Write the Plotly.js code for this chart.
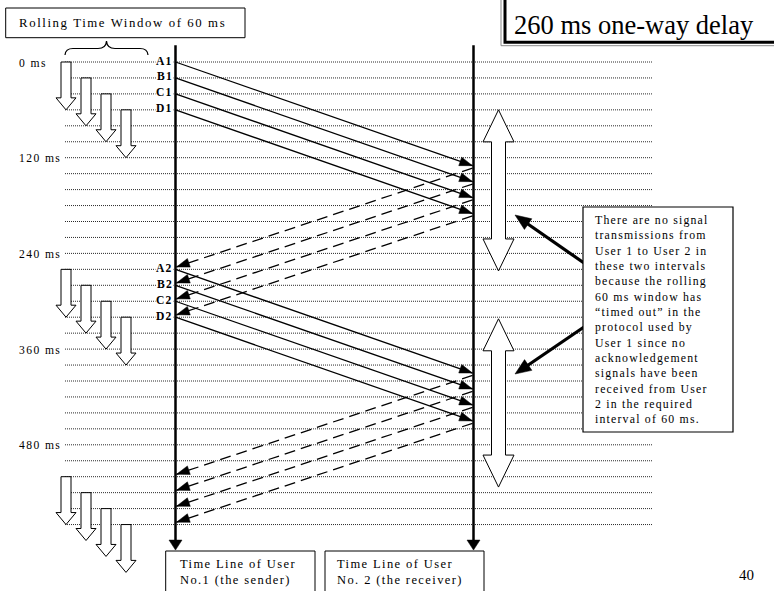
<!DOCTYPE html>
<html><head><meta charset="utf-8">
<script src="https://cdn.plot.ly/plotly-3.0.1.min.js"></script>
<style>html,body{margin:0;padding:0;background:#fff}#chart{width:774px;height:591px}</style>
</head><body><div id="chart"></div>
<script>
// ---------------- data ----------------
const gridTimes = [0,20,40,60,80,100,120,140,160,180,200,220,240,260,280,300,320,340,360,380,400,420,440,460,480,500,520,540,560,580];
const timeLabelValues = [0,120,240,360,480];
const timeLabels = ['0 ms','120 ms','240 ms','360 ms','480 ms'];
const signalNames = ['A','B','C','D'];
const burst1Send   = [0,20,40,60];
const burst1Arrive = [130,150,170,190];
const ack1Send     = [133,153,173,193];
const ack1Arrive   = [257,277,297,317];
const burst2Send   = [260,280,300,320];
const burst2Arrive = [390,410,430,450];
const ack2Send     = [393,413,433,453];
const ack2Arrive   = [517,537,557,577];
const windowStarts1 = [0,20,40,60];
const windowStarts2 = [260,280,300,320];
const windowStarts3 = [520,540,560,580];
const windowLength = 60;
const timeoutStart = [60,322];
const timeoutEnd   = [262,533];
const timelineStart = -21, timelineEnd = 612;
const noteLines = ['There are no signal','transmissions from','User 1 to User 2 in','these two intervals','because the rolling','60 ms window has','\u201ctimed out\u201d in the','protocol used by','User 1 since no','acknowledgement','signals have been','received from User','2 in the required','interval of 60 ms.'];
const titleText = '260 ms one-way delay';
const windowText = 'Rolling Time Window of 60 ms';
const senderLines = ['Time Line of User','No.1 (the sender)'];
const receiverLines = ['Time Line of User','No. 2 (the receiver)'];
const pageNumber = '40';

// ---------------- layout constants ----------------
const W = 774, H = 591, Y0 = 62, K = 0.7975;   // px per ms
const SX = 175.5, RX = 473.5;
const GX0 = 65, GX1 = 652;
const SERIF = 'Liberation Serif, Times New Roman, serif';

const sp = (s, ls) => '<span style="letter-spacing:' + ls + 'px">' + s + '</span>';
const spLines = (arr, ls) => arr.map(l => sp(l, ls)).join('<br>');

const traces = [];
// gridlines
(function(){
  const x = [], y = [];
  gridTimes.forEach(t => { x.push(GX0, GX1, null); y.push(t, t, null); });
  traces.push({x, y, mode:'lines', line:{color:'#2a2a2a', width:1, dash:'1px,1px'}, hoverinfo:'skip'});
})();

// block arrows (hollow)
function blockArrow(cx, t0, t1, s, hw, hpx, dbl, k) {
  const h = hpx / k;
  let xs, ys;
  if (dbl) {
    xs = [cx, cx+hw, cx+s, cx+s, cx+hw, cx, cx-hw, cx-s, cx-s, cx-hw, cx];
    ys = [t0, t0+h, t0+h, t1-h, t1-h, t1, t1-h, t1-h, t0+h, t0+h, t0];
  } else {
    xs = [cx-s, cx+s, cx+s, cx+hw, cx, cx-hw, cx-s, cx-s];
    ys = [t0, t0, t1-h, t1-h, t1, t1-h, t1-h, t0];
  }
  return {x:xs, y:ys, mode:'lines', fill:'toself', fillcolor:'#fff', line:{color:'#000', width:1}, hoverinfo:'skip'};
}
[windowStarts1, windowStarts2, windowStarts3].forEach(group => {
  group.forEach((t, i) => traces.push(blockArrow(66 + 20*i, t, t + windowLength, 5, 10, 12, false, K)));
});
timeoutStart.forEach((t, i) => traces.push(blockArrow(498.5, t, timeoutEnd[i], 7, 15.5, 32, true, K)));

// timelines
traces.push({x:[SX, SX, null, RX, RX], y:[timelineStart, timelineEnd-8, null, timelineStart, timelineEnd-8],
  mode:'lines', line:{color:'#000', width:2.5}, hoverinfo:'skip'});

// messages
function segs(x0, t0s, x1, t1s) {
  const x = [], y = [];
  t0s.forEach((t, i) => { x.push(x0, x1, null); y.push(t, t1s[i], null); });
  return {x, y};
}
const s1 = segs(SX, burst1Send, RX-1, burst1Arrive);
const s2 = segs(SX, burst2Send, RX-1, burst2Arrive);
traces.push({x:s1.x.concat(s2.x), y:s1.y.concat(s2.y), mode:'lines', line:{color:'#000', width:1.3}, hoverinfo:'skip'});
const d1 = segs(RX-1, ack1Send, SX+1, ack1Arrive);
const d2 = segs(RX-1, ack2Send, SX+1, ack2Arrive);
traces.push({x:d1.x.concat(d2.x), y:d1.y.concat(d2.y), mode:'lines', line:{color:'#000', width:1.3, dash:'11px,6px'}, hoverinfo:'skip'});

// arrowheads (filled triangles), k = px per y-unit
function head(xt, yt, xf, yf, len, half, k, acc) {
  const dx = xt - xf, dy = (yt - yf) * k;
  const L = Math.hypot(dx, dy), ux = dx / L, uy = dy / L;
  const bx = xt - ux*len, by = yt*k - uy*len;
  acc.x.push(xt, bx - uy*half, bx + uy*half, xt, null);
  acc.y.push(yt, (by + ux*half)/k, (by - ux*half)/k, yt, null);
}
const heads = {x:[], y:[]};
burst1Send.forEach((t,i) => head(RX-1, burst1Arrive[i], SX, t, 13, 4.5, K, heads));
burst2Send.forEach((t,i) => head(RX-1, burst2Arrive[i], SX, t, 13, 4.5, K, heads));
ack1Send.forEach((t,i) => head(SX+1, ack1Arrive[i], RX-1, t, 13, 4.5, K, heads));
ack2Send.forEach((t,i) => head(SX+1, ack2Arrive[i], RX-1, t, 13, 4.5, K, heads));
head(SX, timelineEnd, SX, 0, 10, 6.5, K, heads);
head(RX, timelineEnd, RX, 0, 10, 6.5, K, heads);
traces.push({x:heads.x, y:heads.y, mode:'lines', fill:'toself', fillcolor:'#000', line:{color:'#000', width:0.5}, hoverinfo:'skip'});

// callout arrows (pixel axis y2)
const callouts = {x:[], y:[]}, calloutHeads = {x:[], y:[]};
[[584,263,515,215],[584,327,515,374]].forEach(c => {
  callouts.x.push(c[0], c[2] + (c[0]-c[2])*0.15, null); callouts.y.push(c[1], c[3] + (c[1]-c[3])*0.15, null);
  head(c[2], c[3], c[0], c[1], 16, 6.5, 1, calloutHeads);
});
traces.push({x:callouts.x, y:callouts.y, yaxis:'y2', mode:'lines', line:{color:'#000', width:3.2}, hoverinfo:'skip'});
traces.push({x:calloutHeads.x, y:calloutHeads.y, yaxis:'y2', mode:'lines', fill:'toself', fillcolor:'#000', line:{color:'#000', width:0.5}, hoverinfo:'skip'});

// ---------------- shapes ----------------
const shapes = [
  {type:'rect', xref:'x', yref:'y2', x0:5.7, x1:245, y0:8, y1:37.7, line:{color:'#000', width:1}, fillcolor:'#fff', layer:'above'},
  {type:'path', xref:'x', yref:'y2', path:'M 65 55 Q 65.5 48.5 73 48.5 L 98 48.5 Q 106 48.5 106.5 41 Q 107 48.5 115 48.5 L 140 48.5 Q 147.5 48.5 148 55', line:{color:'#000', width:1.2}, layer:'above'},
  {type:'path', xref:'x', yref:'y2', path:'M 501 -5 L 501 45.7 L 800 45.7', line:{color:'#8a8a8a', width:1}, layer:'above'},
  {type:'path', xref:'x', yref:'y2', path:'M 505 -5 L 505 42.3 L 800 42.3', line:{color:'#000', width:3}, layer:'above'},
  {type:'rect', xref:'x', yref:'y2', x0:583, x1:733, y0:207, y1:432, line:{color:'#000', width:1.2}, fillcolor:'#fff', layer:'above'},
  {type:'rect', xref:'x', yref:'y2', x0:165.7, x1:315, y0:551, y1:600, line:{color:'#000', width:1}, fillcolor:'#fff', layer:'above'},
  {type:'rect', xref:'x', yref:'y2', x0:325, x1:484, y0:551, y1:600, line:{color:'#000', width:1}, fillcolor:'#fff', layer:'above'}
];

// ---------------- annotations ----------------
const ann = [];
timeLabelValues.forEach((t, i) => ann.push({x:17, y:t, xref:'x', yref:'y', xanchor:'left', yanchor:'middle', yshift:-1,
  text:sp(timeLabels[i], 1.4), showarrow:false, font:{family:SERIF, size:11.6, color:'#000'}}));
[[burst1Send,'1'],[burst2Send,'2']].forEach(([arr, n]) => arr.forEach((t, i) => ann.push({
  x:173.8, y:t, xref:'x', yref:'y', xanchor:'right', yanchor:'middle', yshift:1,
  text:'<b>' + sp(signalNames[i] + n, 1.2) + '</b>', showarrow:false, bgcolor:'#fff', borderpad:0,
  font:{family:SERIF, size:11.6, color:'#000'}})));
ann.push({x:122, y:23, xref:'x', yref:'y2', xanchor:'center', yanchor:'middle', text:sp(windowText, 1.6), showarrow:false, font:{family:SERIF, size:12.8, color:'#000'}});
ann.push({x:512, y:24.5, xref:'x', yref:'y2', xanchor:'left', yanchor:'middle', text:titleText, showarrow:false, font:{family:SERIF, size:26.5, color:'#000'}});
ann.push({x:593, y:319.5, xref:'x', yref:'y2', xanchor:'left', yanchor:'middle', align:'left', text:spLines(noteLines, 1.2), showarrow:false, font:{family:SERIF, size:11.8, color:'#000'}});
ann.push({x:178, y:572, xref:'x', yref:'y2', xanchor:'left', yanchor:'middle', align:'left', text:spLines(senderLines, 1.4), showarrow:false, font:{family:SERIF, size:12.5, color:'#000'}});
ann.push({x:335, y:572, xref:'x', yref:'y2', xanchor:'left', yanchor:'middle', align:'left', text:spLines(receiverLines, 1.4), showarrow:false, font:{family:SERIF, size:12.5, color:'#000'}});
ann.push({x:746, y:575, xref:'x', yref:'y2', xanchor:'center', yanchor:'middle', text:pageNumber, showarrow:false, font:{family:SERIF, size:15, color:'#000'}});

traces.push({x:[], y:[], yaxis:'y2', mode:'lines', hoverinfo:'skip'});

const layout = {
  width:W, height:H, margin:{l:0, r:0, t:0, b:0, pad:0},
  paper_bgcolor:'#fff', plot_bgcolor:'#fff', showlegend:false,
  xaxis:{range:[0, W], visible:false, fixedrange:true},
  yaxis:{range:[(H - Y0)/K, -Y0/K], visible:false, fixedrange:true},
  yaxis2:{range:[H, 0], overlaying:'y', visible:false, fixedrange:true},
  shapes, annotations:ann
};
Plotly.newPlot('chart', traces, layout, {staticPlot:true, displayModeBar:false});
</script></body></html>
